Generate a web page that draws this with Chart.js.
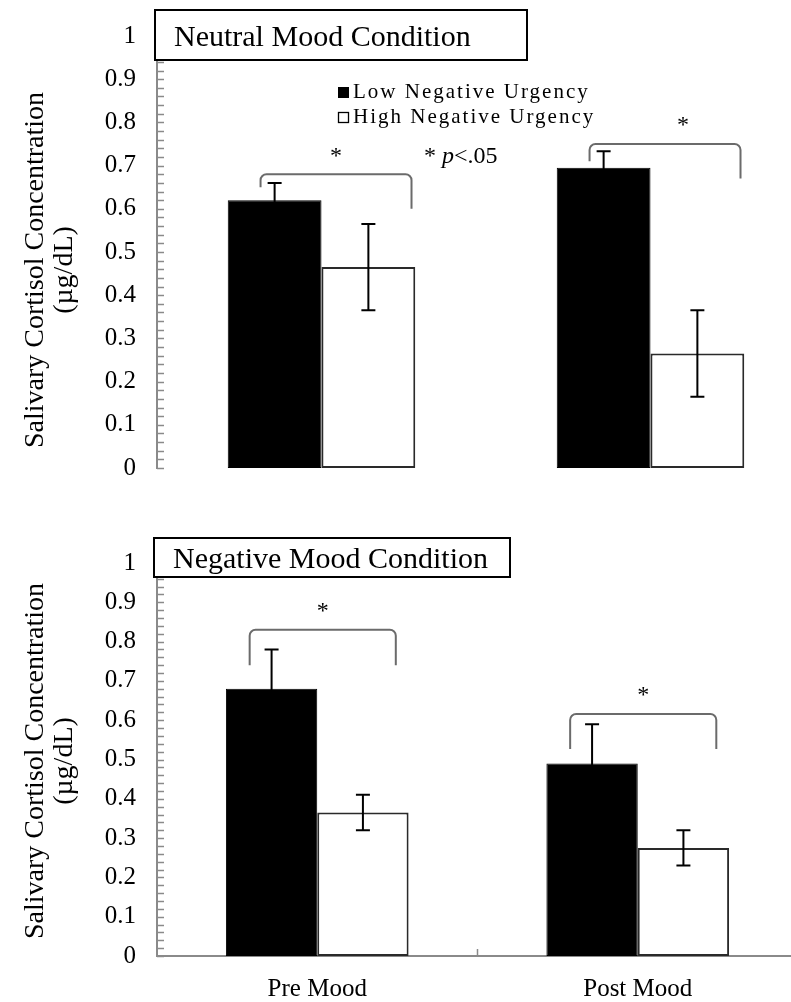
<!DOCTYPE html>
<html>
<head>
<meta charset="utf-8">
<script src="https://cdn.jsdelivr.net/npm/chart.js@4.4.0/dist/chart.umd.min.js"></script>
<style>
  html, body { margin: 0; padding: 0; background: #fff; overflow: hidden; width: 791px; height: 1002px; }
  canvas { position: absolute; left: 0; }
  #neutralChart { top: 0; }
  #negativeChart { top: 520px; }
</style>
</head>
<body>
<canvas id="neutralChart" width="815" height="504"></canvas>
<canvas id="negativeChart" width="798" height="482"></canvas>
<script>
// Data
const categories = ['Pre Mood', 'Post Mood'];
const seriesNames = ['Low Negative Urgency', 'High Negative Urgency'];
const yTicks = [0, 0.1, 0.2, 0.3, 0.4, 0.5, 0.6, 0.7, 0.8, 0.9, 1];
const yTitle = ['Salivary Cortisol Concentration', '(\u00b5g/dL)'];

const neutralLow = [0.62, 0.695];
const neutralHigh = [0.465, 0.265];
const neutralLowErr = [0.04, 0.038];
const neutralHighErr = [0.1, 0.1];

const negativeLow = [0.68, 0.49];
const negativeHigh = [0.365, 0.275];
const negativeLowErr = [0.1, 0.1];
const negativeHighErr = [0.045, 0.045];

// significance brackets (y values)
const neutralBracketTop = [0.68, 0.75];
const neutralBracketLegs = [[0.65, 0.6], [0.71, 0.67]];
const negativeBracketTop = [0.83, 0.616];
const negativeBracketLegs = [[0.74, 0.74], [0.527, 0.527]];

const SERIF = '"Liberation Serif", "Times New Roman", serif';
const AXIS_GREY = '#8a8a8a';

// error bars, brackets, minor ticks, title box, legend
const annotate = {
  id: 'annotate',
  afterDatasetsDraw(chart, args, opts) {
    const ctx = chart.ctx;
    const x = chart.scales.x, y = chart.scales.y;
    const area = chart.chartArea;
    ctx.save();

    // minor ticks on the y axis
    ctx.strokeStyle = AXIS_GREY;
    ctx.lineWidth = 1.5;
    ctx.beginPath();
    for (let k = 0; k <= 50; k++) {
      const py = Math.round(y.getPixelForValue(k / 50)) + 0.5;
      ctx.moveTo(area.left, py);
      ctx.lineTo(area.left + 7, py);
    }
    ctx.stroke();

    // tick between categories on the x axis
    if (opts.xAxisTick) {
      const px = (x.getPixelForValue(0) + x.getPixelForValue(1)) / 2;
      ctx.beginPath();
      ctx.moveTo(px, area.bottom);
      ctx.lineTo(px, area.bottom - 7);
      ctx.stroke();
    }

    // error bars
    ctx.strokeStyle = '#000';
    ctx.lineWidth = 2;
    chart.data.datasets.forEach((ds, i) => {
      chart.getDatasetMeta(i).data.forEach((bar, j) => {
        const v = ds.data[j], e = ds.errors[j];
        const y1 = y.getPixelForValue(v + e), y0 = y.getPixelForValue(v - e);
        ctx.beginPath();
        ctx.moveTo(bar.x, y0); ctx.lineTo(bar.x, y1);
        ctx.moveTo(bar.x - 7, y1); ctx.lineTo(bar.x + 7, y1);
        ctx.moveTo(bar.x - 7, y0); ctx.lineTo(bar.x + 7, y0);
        ctx.stroke();
      });
    });

    // significance brackets
    ctx.strokeStyle = '#6b6b6b';
    ctx.lineWidth = 2;
    opts.bracketTop.forEach((t, j) => {
      const c = x.getPixelForValue(j);
      const w = chart.getDatasetMeta(0).data[j].width;
      const l = c + opts.span[0] * w, r = c + opts.span[1] * w;
      const ty = y.getPixelForValue(t);
      const ly = y.getPixelForValue(opts.bracketLegs[j][0]);
      const ry = y.getPixelForValue(opts.bracketLegs[j][1]);
      ctx.beginPath();
      ctx.moveTo(l, ly);
      ctx.arcTo(l, ty, l + 8, ty, 6);
      ctx.arcTo(r, ty, r, ty + 8, 6);
      ctx.lineTo(r, ry);
      ctx.stroke();
      ctx.fillStyle = '#000';
      ctx.font = '24px ' + SERIF;
      ctx.textAlign = 'center';
      ctx.textBaseline = 'middle';
      ctx.fillText('*', (l + r) / 2 + (opts.starShift ? opts.starShift[j] : 0), ty - 18);
    });
    ctx.restore();
  },
  afterDraw(chart, args, opts) {
    const ctx = chart.ctx;
    ctx.save();

    // y axis title, two lines
    ctx.save();
    ctx.translate(0, opts.yTitleCenter);
    ctx.rotate(-Math.PI / 2);
    ctx.fillStyle = '#000';
    ctx.font = '28px ' + SERIF;
    ctx.textAlign = 'center';
    ctx.textBaseline = 'middle';
    ctx.fillText(yTitle[0], 0, 36);
    ctx.fillText(yTitle[1], 0, 65);
    ctx.restore();

    // title box
    const b = opts.box;
    ctx.fillStyle = '#fff';
    ctx.fillRect(b[0], b[1], b[2], b[3]);
    ctx.strokeStyle = '#000';
    ctx.lineWidth = 2;
    ctx.strokeRect(b[0], b[1], b[2], b[3]);
    ctx.fillStyle = '#000';
    ctx.font = '30px ' + SERIF;
    ctx.textAlign = 'left';
    ctx.textBaseline = 'alphabetic';
    ctx.fillText(opts.title, b[0] + 19, b[1] + opts.titleBase);

    if (opts.legend) {
      ctx.font = '21px ' + SERIF;
      ctx.letterSpacing = '2px';
      ctx.textBaseline = 'middle';
      chart.data.datasets.forEach((ds, i) => {
        const ly = 92 + i * 25;
        const sx = 338;
        if (i === 0) {
          ctx.fillStyle = '#000';
          ctx.fillRect(sx, ly - 5, 11, 11);
        } else {
          ctx.strokeStyle = '#000';
          ctx.lineWidth = 1.3;
          ctx.strokeRect(sx + 0.5, ly - 4.5, 10, 10);
        }
        ctx.fillStyle = '#000';
        ctx.fillText(ds.label, sx + 15, ly);
      });
      ctx.letterSpacing = '0px';
      // p note
      ctx.font = '24px ' + SERIF;
      ctx.fillText('*', 424, 157);
      ctx.font = 'italic 24px ' + SERIF;
      ctx.fillText('p', 442, 157);
      const pw = ctx.measureText('p').width;
      ctx.font = '24px ' + SERIF;
      ctx.fillText('<.05', 442 + pw, 157);
    }
    ctx.restore();
  }
};

function makeChart(id, low, high, lowErr, highErr, pad, showX, ann) {
  return new Chart(document.getElementById(id), {
    type: 'bar',
    data: {
      labels: categories,
      datasets: [
        { label: seriesNames[0], data: low, errors: lowErr, backgroundColor: '#000',
          borderColor: '#000', borderWidth: 1, borderSkipped: false },
        { label: seriesNames[1], data: high, errors: highErr, backgroundColor: '#fff',
          borderColor: '#2a2a2a', borderWidth: 2, borderSkipped: false }
      ]
    },
    options: {
      responsive: false,
      animation: false,
      events: [],
      layout: { padding: pad },
      datasets: { bar: { categoryPercentage: 0.57, barPercentage: 1 } },
      plugins: { legend: { display: false }, tooltip: { enabled: false }, annotate: ann },
      scales: {
        x: {
          display: showX,
          grid: { display: false },
          border: { display: true, color: AXIS_GREY, width: 2 },
          ticks: { color: '#000', font: { family: SERIF, size: 25 }, padding: 10 },
          afterFit: s => { s.height = showX ? 46 : 0; }
        },
        y: {
          min: 0, max: 1,
          afterBuildTicks: s => { s.ticks = yTicks.map(v => ({ value: v })); },
          grid: { display: false, drawTicks: false },
          border: { display: true, color: AXIS_GREY, width: 2 },
          ticks: { color: '#000', font: { family: SERIF, size: 25 }, padding: 21,
                   callback: v => String(v) },
          afterFit: s => { s.width = 157; }
        }
      }
    },
    plugins: [annotate]
  });
}

makeChart('neutralChart', neutralLow, neutralHigh, neutralLowErr, neutralHighErr,
  { top: 36, bottom: 14, left: 0, right: 0 }, false,
  { bracketTop: neutralBracketTop, bracketLegs: neutralBracketLegs, span: [-0.65, 0.96],
    starShift: [0, 18], box: [155, 10, 372, 50], title: 'Neutral Mood Condition', titleBase: 36,
    legend: true, xAxisTick: false, yTitleCenter: 270 });

makeChart('negativeChart', negativeLow, negativeHigh, negativeLowErr, negativeHighErr,
  { top: 43, bottom: 0, left: 0, right: 0 }, true,
  { bracketTop: negativeBracketTop, bracketLegs: negativeBracketLegs, span: [-0.74, 0.86],
    box: [154, 18, 356, 39], title: 'Negative Mood Condition', titleBase: 30,
    legend: false, xAxisTick: true, yTitleCenter: 241 });
</script>
</body>
</html>
